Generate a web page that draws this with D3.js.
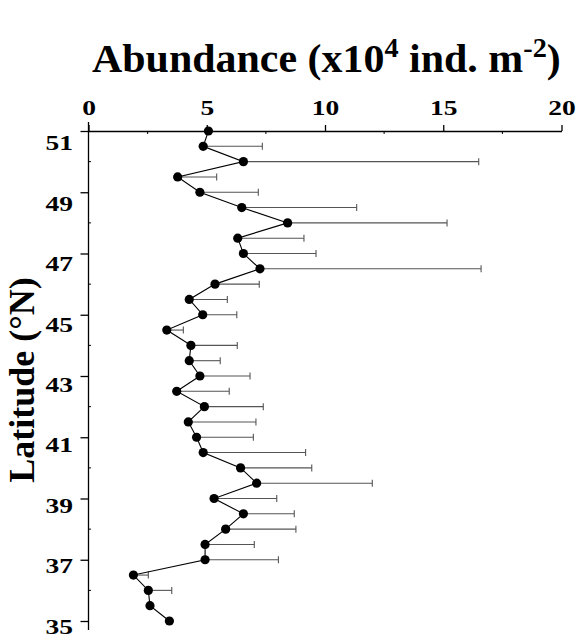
<!DOCTYPE html>
<html><head><meta charset="utf-8">
<script src="https://cdn.jsdelivr.net/npm/d3@7"></script>
<style>html,body{margin:0;padding:0;background:#fff;}</style>
</head><body>
<svg id="chart" width="576" height="642"></svg>
<script>
const latitudes = [51,50.5,50,49.5,49,48.5,48,47.5,47,46.5,46,45.5,45,44.5,44,43.5,43,42.5,42,41.5,41,40.5,40,39.5,39,38.5,38,37.5,37,36.5,36,35.5,35];
const abundance = [5.07,4.85,6.55,3.77,4.71,6.48,8.42,6.31,6.55,7.25,5.35,4.26,4.83,3.31,4.33,4.26,4.71,3.73,4.90,4.22,4.57,4.85,6.43,7.11,5.31,6.55,5.80,4.93,4.93,1.90,2.53,2.60,3.42];
const sdev = [0,2.50,9.95,1.65,2.47,4.86,6.74,2.80,3.07,9.35,1.87,1.61,1.44,0.70,1.96,1.31,2.12,2.22,2.49,2.86,2.40,4.33,3.01,4.89,2.65,2.15,2.97,2.08,3.10,0.63,0.99,0,0];
const xTicks = [0,5,10,15,20];
const yTicks = [35,37,39,41,43,45,47,49,51];

const svg = d3.select("#chart");
const font = "'Liberation Serif','Times New Roman',serif";
const x = d3.scaleLinear().domain([0,20]).range([88.5,561.5]);
const y = d3.scaleLinear().domain([35,51]).range([621,131]);
const labelY = d3.scaleLinear().domain([35,51]).range([625.5,142]);
const stretch = 1.25;

// Title (fit to reference width)
const tg = svg.append("g");
const title = tg.append("text").attr("x",0).attr("y",0).attr("text-anchor","start")
  .attr("font-family",font).attr("font-weight","bold").attr("font-size",40).attr("fill","#000");
title.append("tspan").text("Abundance (x10");
title.append("tspan").attr("font-size",27).attr("dy",-15).text("4");
title.append("tspan").attr("dy",15).text(" ind. m");
title.append("tspan").attr("font-size",27).attr("dy",-15).text("-2");
title.append("tspan").attr("dy",15).text(")");
const tb = title.node().getBBox();
const sx = 469 / tb.width;
tg.attr("transform",`translate(${92 - tb.x*sx},72) scale(${sx},1)`);

// Y label
svg.append("text").attr("transform","translate(34,380) rotate(-90)").attr("text-anchor","middle")
  .attr("font-family",font).attr("font-weight","bold").attr("font-size",36).text("Latitude (°N)");

// X axis (top)
const xAxis = svg.append("g").attr("transform","translate(0,131)")
  .call(d3.axisTop(x).tickValues(xTicks).tickSize(6).tickPadding(10).tickSizeOuter(0));
xAxis.select(".domain").attr("stroke","#000").attr("stroke-width",1.3);
xAxis.selectAll(".tick line").attr("stroke-width",1.3);
xAxis.selectAll("text").attr("font-family",font).attr("font-weight","bold").attr("font-size",22).attr("fill","#000")
  .attr("y",0).attr("dy",0).attr("transform",`translate(0,-16) scale(${stretch},1)`);
// x minor ticks
svg.append("g").selectAll("line").data([2.5,7.5,12.5,17.5]).join("line")
  .attr("x1",d=>x(d)).attr("x2",d=>x(d)).attr("y1",131).attr("y2",134).attr("stroke","#000").attr("stroke-width",1);

// Y axis
const yAxis = svg.append("g").attr("transform","translate(88.5,0)")
  .call(d3.axisLeft(y).tickValues(yTicks).tickSize(8).tickPadding(7).tickSizeOuter(0));
yAxis.select(".domain").remove();
yAxis.selectAll(".tick line").attr("stroke-width",1.3);
yAxis.selectAll("text").attr("font-family",font).attr("font-weight","bold").attr("font-size",22).attr("fill","#000")
  .attr("x",0).attr("dy","0.35em")
  .attr("transform",d=>`translate(-15.5,${labelY(d)-y(d)}) scale(${stretch},1)`);
svg.append("line").attr("x1",88.5).attr("x2",88.5).attr("y1",122).attr("y2",630).attr("stroke","#000").attr("stroke-width",1.3);
// y minor ticks
svg.append("g").selectAll("line").data([36,38,40,42,44,46,48,50]).join("line")
  .attr("x1",88.5).attr("x2",91).attr("y1",d=>y(d)).attr("y2",d=>y(d)).attr("stroke","#000").attr("stroke-width",1);

const data = latitudes.map((lat,i)=>({lat, v:abundance[i], sd:sdev[i]}));

// Error bars
const eb = svg.append("g").selectAll("g").data(data.filter(d=>d.sd>0)).join("g");
eb.append("line").attr("x1",d=>x(d.v)).attr("x2",d=>x(d.v+d.sd)).attr("y1",d=>y(d.lat)).attr("y2",d=>y(d.lat))
  .attr("stroke","#555").attr("stroke-width",1.1);
eb.append("line").attr("x1",d=>x(d.v+d.sd)).attr("x2",d=>x(d.v+d.sd)).attr("y1",d=>y(d.lat)-3.5).attr("y2",d=>y(d.lat)+3.5)
  .attr("stroke","#555").attr("stroke-width",1.1);

// Line
svg.append("path").datum(data)
  .attr("d",d3.line().x(d=>x(d.v)).y(d=>y(d.lat)))
  .attr("fill","none").attr("stroke","#000").attr("stroke-width",1.1);

// Points
svg.append("g").selectAll("circle").data(data).join("circle")
  .attr("cx",d=>x(d.v)).attr("cy",d=>y(d.lat)).attr("r",4.6).attr("fill","#000");
</script>
</body></html>
